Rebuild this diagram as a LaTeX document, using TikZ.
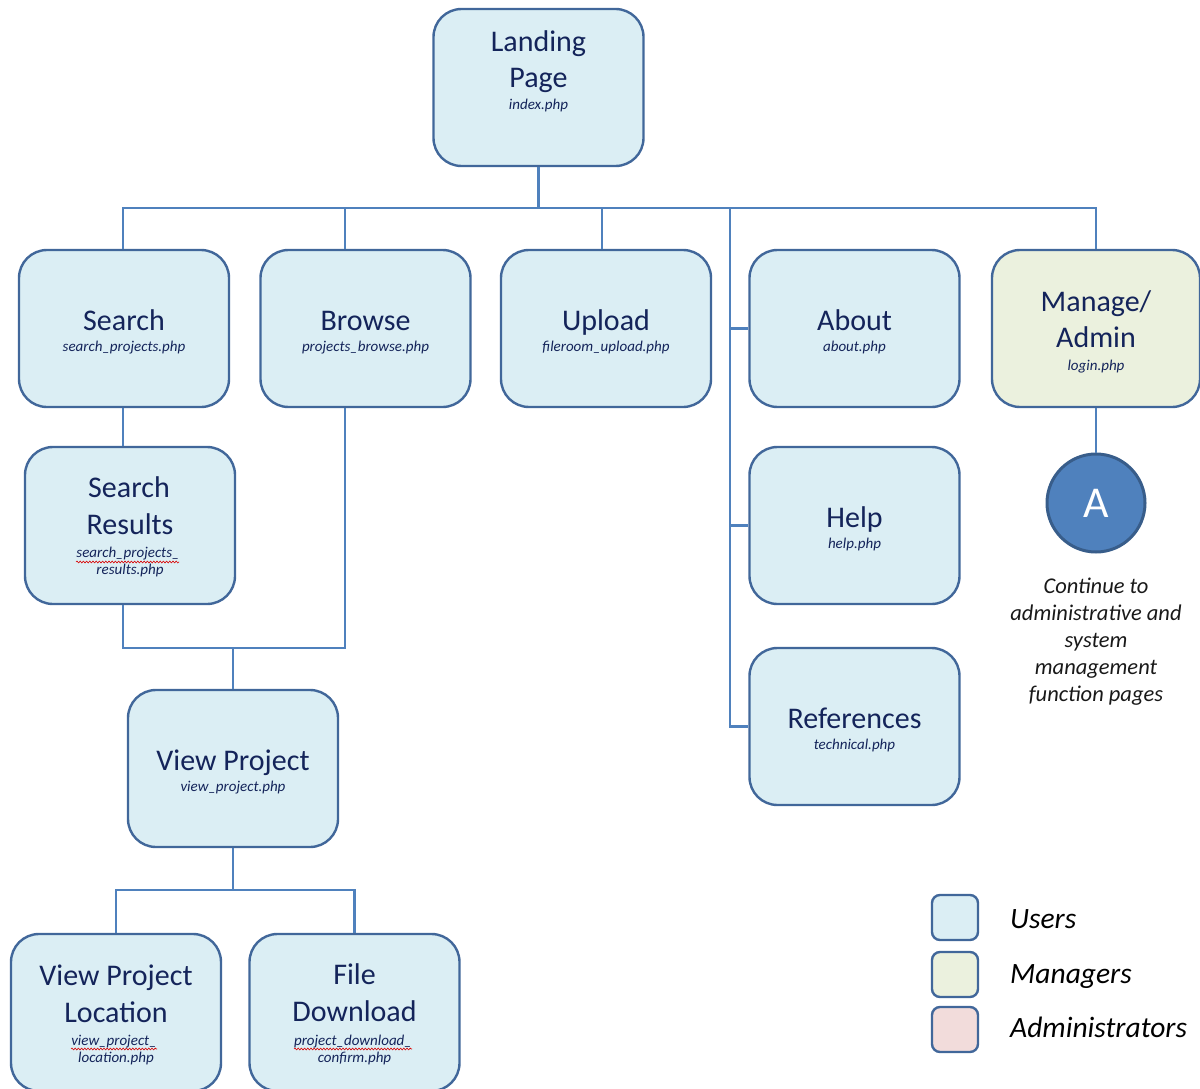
\documentclass[tikz,border=0pt]{standalone}
\usepackage{fontspec}
\setmainfont{Carlito}
\usetikzlibrary{decorations.pathmorphing}

\definecolor{linkblue}{HTML}{4F81BD}
\definecolor{edgeblue}{HTML}{41679A}
\definecolor{userfill}{HTML}{DBEEF4}
\definecolor{mgrfill}{HTML}{EBF1DE}
\definecolor{admfill}{HTML}{F2DCDB}
\definecolor{navy}{HTML}{14245A}
\definecolor{circfill}{HTML}{4F81BD}
\definecolor{circedge}{HTML}{385D8A}

\tikzset{
  pagebox/.style={draw=edgeblue, line width=2.4pt, rounded corners=28pt,
    minimum width=210pt, minimum height=157pt, inner sep=0pt, fill=userfill},
  mgrbox/.style={pagebox, fill=mgrfill},
  keybox/.style={draw=edgeblue, line width=2.4pt, rounded corners=8pt,
    minimum width=46pt, minimum height=45pt, inner sep=0pt},
  ttl/.style={anchor=base, inner sep=0pt, text=navy,
    font=\fontsize{30}{35}\selectfont},
  sub/.style={anchor=base, inner sep=0pt, text=navy,
    font=\fontsize{15}{18}\selectfont\itshape},
  note/.style={anchor=base, inner sep=0pt, text=black!90,
    font=\fontsize{22.5}{27}\selectfont\itshape},
  keytxt/.style={anchor=base west, inner sep=0pt, text=black,
    font=\fontsize{29.5}{34}\selectfont\itshape},
  conn/.style={draw=linkblue, line width=2.2pt},
  squiggle/.style={draw=red!85!black, line width=0.6pt,
    decorate, decoration={snake, segment length=3.2pt, amplitude=0.9pt}}
}

\begin{document}
\begin{tikzpicture}[x=1pt, y=-1pt]
\useasboundingbox (0,0) rectangle (1200,1089);

% ---- page boxes ----
\node[pagebox] (landing) at (538.5,87.5) {};
\node[ttl] (landing-t1) at (538.5,52) {Landing};
\node[ttl] (landing-t2) at (538.5,88) {Page};
\node[sub] (landing-s) at (538.5,110) {index.php};

\node[pagebox] (search) at (124,328.5) {};
\node[ttl] (search-t) at (124,330) {Search};
\node[sub] (search-s) at (124,351) {search\_projects.php};

\node[pagebox] (browse) at (365.5,328.5) {};
\node[ttl] (browse-t) at (365.5,330) {Browse};
\node[sub] (browse-s) at (365.5,351) {projects\_browse.php};

\node[pagebox] (upload) at (606,328.5) {};
\node[ttl] (upload-t) at (606,330) {Upload};
\node[sub] (upload-s) at (606,351) {fileroom\_upload.php};

\node[pagebox] (about) at (854.5,328.5) {};
\node[ttl] (about-t) at (854.5,330) {About};
\node[sub] (about-s) at (854.5,351) {about.php};

\node[mgrbox, minimum width=208pt] (manage) at (1096,328.5) {};
\node[ttl] (manage-t1) at (1096,311) {Manage/};
\node[ttl] (manage-t2) at (1096,347) {Admin};
\node[sub] (manage-s) at (1096,370) {login.php};

\node[pagebox] (results) at (130,525.5) {};
\node[ttl] (results-t1) at (129,497) {Search};
\node[ttl] (results-t2) at (130,534) {Results};
\node[sub] (results-s1) at (128,557) {search\_projects\_};
\node[sub] (results-s2) at (130,574) {results.php};

\node[pagebox] (help) at (854.5,525.5) {};
\node[ttl] (help-t) at (854.5,527) {Help};
\node[sub] (help-s) at (854.5,548) {help.php};

\node[pagebox] (refs) at (854.5,726.5) {};
\node[ttl] (refs-t) at (854.5,728) {References};
\node[sub] (refs-s) at (854.5,749) {technical.php};

\node[pagebox] (viewproj) at (233,768.5) {};
\node[ttl] (viewproj-t) at (233,770) {View Project};
\node[sub] (viewproj-s) at (233,791) {view\_project.php};

\node[pagebox] (location) at (116,1012.5) {};
\node[ttl] (location-t1) at (116,985) {View Project};
\node[ttl] (location-t2) at (116,1022) {Location};
\node[sub] (location-s1) at (114,1045) {view\_project\_};
\node[sub] (location-s2) at (116,1062) {location.php};

\node[pagebox] (download) at (354.5,1012.5) {};
\node[ttl] (download-t1) at (354.5,984) {File};
\node[ttl] (download-t2) at (354.5,1021) {Download};
\node[sub] (download-s1) at (353,1045) {project\_download\_};
\node[sub] (download-s2) at (354.5,1062) {confirm.php};

% spell-check underlines
\draw[squiggle] (76,562) -- (179,562);
\draw[squiggle] (71,1049) -- (157,1049);
\draw[squiggle] (294,1049) -- (412,1049);

% ---- off-page connector ----
\node[circle, fill=circfill, draw=circedge, line width=3pt,
  minimum size=98pt, inner sep=0pt, text=white,
  font=\fontsize{44}{50}\selectfont] (circA) at (1096,503) {A};
\node[note] (note1) at (1096,593) {Continue to};
\node[note] (note2) at (1096,620) {administrative and};
\node[note] (note3) at (1096,647) {system};
\node[note] (note4) at (1096,674) {management};
\node[note] (note5) at (1096,701) {function pages};

% ---- connector columns ----
\coordinate (colA) at (123,208);
\coordinate (colB) at (345,208);
\coordinate (colU) at (602,208);
\coordinate (spine) at (730,208);
\coordinate (join) at (233,648);
\coordinate (join2) at (233,890);

\draw[conn] (landing.south) -- (landing.south |- colA);
\draw[conn] (colA |- search.north) -- (colA) -- (manage.north |- colA) -- (manage.north);
\draw[conn] (colB) -- (colB |- browse.north);
\draw[conn] (colU) -- (colU |- upload.north);
\draw[conn] (spine) -- (spine |- refs.west) -- (refs.west);
\draw[conn] (spine |- about.west) -- (about.west);
\draw[conn] (spine |- help.west) -- (help.west);
\draw[conn] (colA |- search.south) -- (colA |- results.north);
\draw[conn] (colA |- results.south) -- (colA |- join) -- (colB |- join) -- (colB |- browse.south);
\draw[conn] (join) -- (viewproj.north);
\draw[conn] (viewproj.south) -- (join2);
\draw[conn] (location.north) -- (location.north |- join2) -- (download.north |- join2) -- (download.north);
\draw[conn] (manage.south) -- (circA.north);

% ---- legend ----
\node[keybox, fill=userfill] (key-users) at (955,917.5) {};
\node[keybox, fill=mgrfill] (key-mgrs) at (955,974.5) {};
\node[keybox, fill=admfill] (key-admins) at (955,1029.5) {};
\node[keytxt] (key-users-t) at (1010,928) {Users};
\node[keytxt] (key-mgrs-t) at (1010,983) {Managers};
\node[keytxt] (key-admins-t) at (1010,1037) {Administrators};
\end{tikzpicture}
\end{document}
